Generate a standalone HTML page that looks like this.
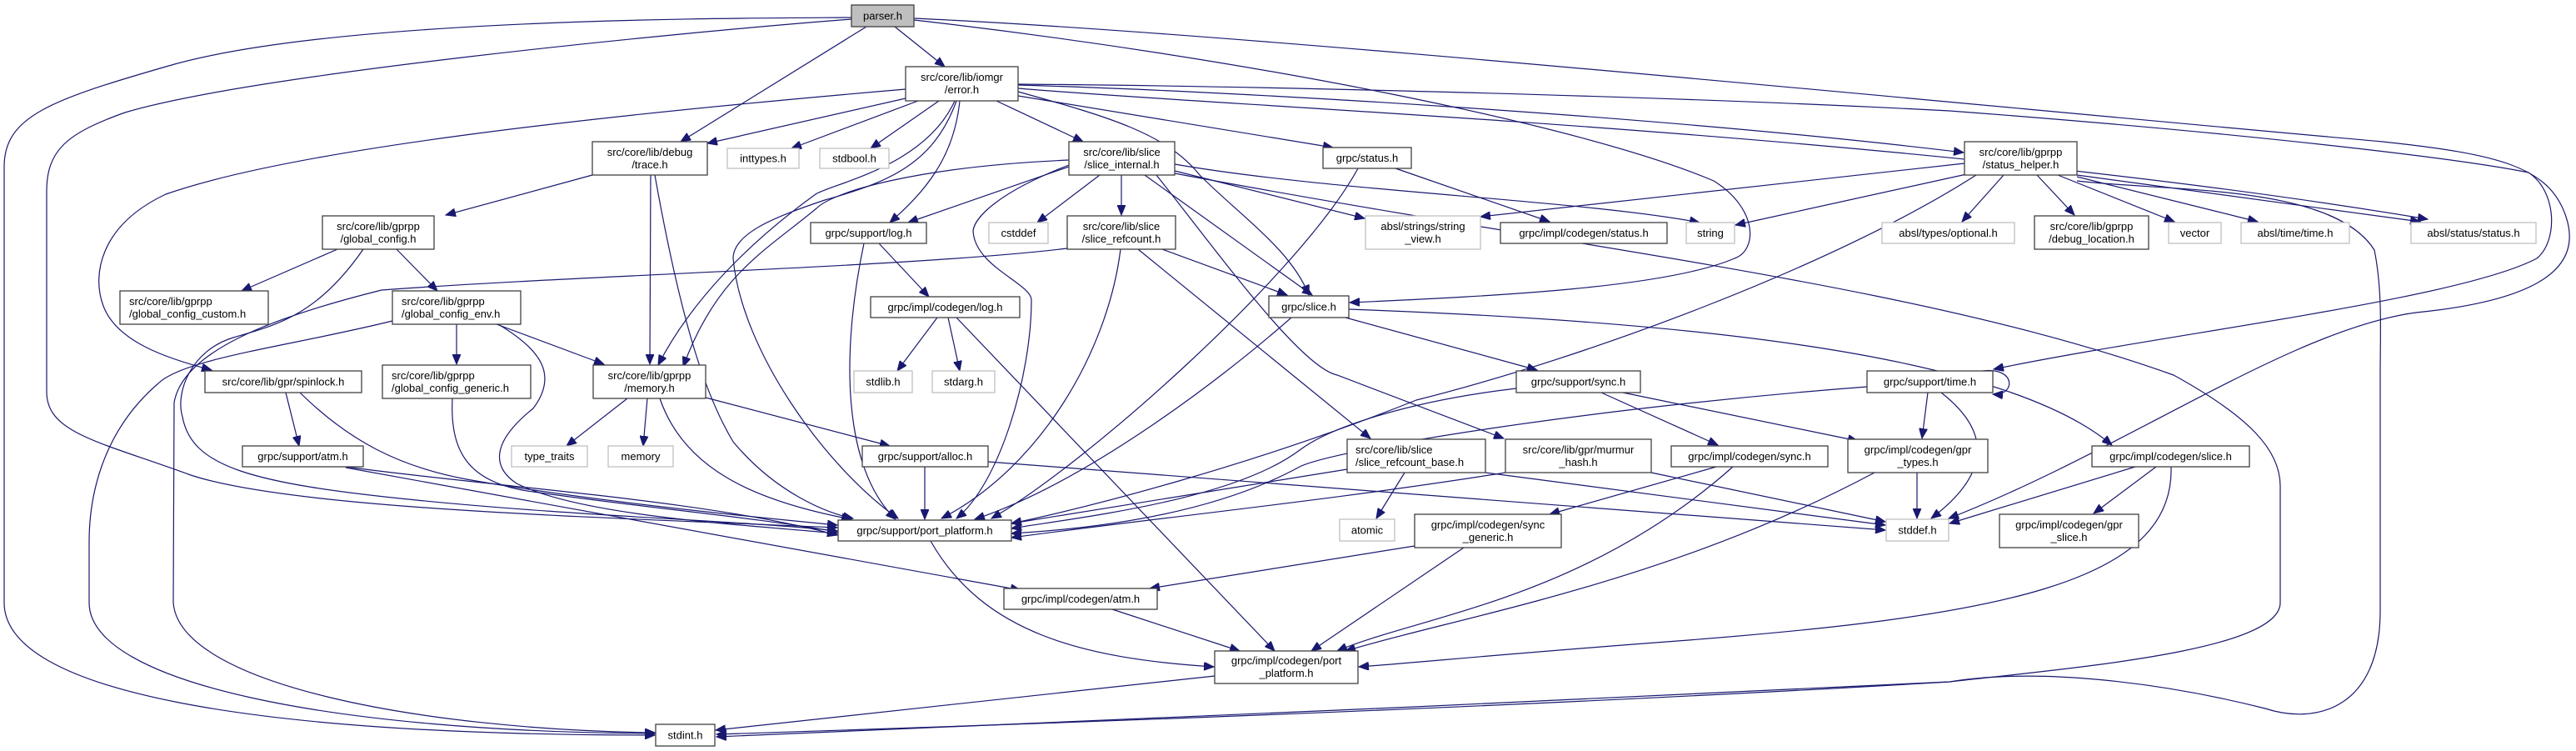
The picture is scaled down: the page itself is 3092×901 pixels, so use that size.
<!DOCTYPE html>
<html><head><meta charset="utf-8"><style>
html,body{margin:0;padding:0;background:#fff}
svg{display:block}
text{font-family:"Liberation Sans",sans-serif;font-size:13px;fill:#000}
.e{fill:none;stroke:#191970;stroke-width:1.2;marker-end:url(#a)}
.n{fill:#fff;stroke:#404040;stroke-width:1.3}
.g{fill:#fff;stroke:#bfbfbf;stroke-width:1.3}
</style></head><body>
<svg width="3092" height="901" viewBox="0 0 3092 901" xmlns="http://www.w3.org/2000/svg">
<defs><marker id="a" markerWidth="13" markerHeight="10" refX="12" refY="5" orient="auto" markerUnits="userSpaceOnUse"><path d="M0,0L12,5L0,10z" fill="#191970" stroke="#191970"/></marker></defs>

<g>
<path class="e" d="M1022,21 C900,22 400,20 199,80 C60,120 5,140 5,200 L5,723 C5,830 300,882 786,882"/>
<path class="e" d="M1022,23 C800,40 300,90 150,135 C80,160 56,180 56,230 L56,470 C56,520 120,530 229,570 C350,610 700,620 1005,633"/>
<path class="e" d="M1040,32 L817,170"/>
<path class="e" d="M1074,32 L1134,80"/>
<path class="e" d="M1097,22 C1500,40 2300,120 2860,170 C3000,185 3060,200 3080,260 C3100,320 3050,360 2900,375 C2750,395 2550,540 2339,622"/>
<path class="e" d="M1097,24 C1500,70 1900,150 2057,217 C2110,250 2110,300 2082,310 C2000,345 1800,355 1620,363"/>
<path class="e" d="M1087,118 L849,172"/>
<path class="e" d="M1102,121 L950,178"/>
<path class="e" d="M1127,121 L1045,178"/>
<path class="e" d="M1196,121 L1300,170"/>
<path class="e" d="M1152,121 C1145,190 1110,230 1068,267"/>
<path class="e" d="M1146,121 C1110,200 1000,220 979,233 C900,290 830,360 790,438"/>
<path class="e" d="M1148,121 C1120,200 1060,220 990,240 C930,260 880,280 880,310 C890,420 990,560 1078,622"/>
<path class="e" d="M1222,110 C1330,140 1400,160 1440,210 C1490,260 1550,300 1571,354"/>
<path class="e" d="M1222,115 L1600,177"/>
<path class="e" d="M1222,102 C1500,110 2000,140 2357,183"/>
<path class="e" d="M1222,101 C1500,103 2000,115 2340,133 C2700,160 2950,190 3035,207 C3070,230 3070,290 3045,310 C2950,360 2600,400 2393,443"/>
<path class="e" d="M1222,106 C1500,130 2300,160 2914,263"/>
<path class="e" d="M1087,107 C700,140 350,180 199,233 C120,270 110,330 124,367 C140,410 200,430 254,444"/>
<path class="e" d="M711,210 L535,258"/>
<path class="e" d="M781,210 L780,437"/>
<path class="e" d="M786,210 C820,400 850,480 880,530 C930,590 990,615 1024,622"/>
<path class="e" d="M405,299 L290,349"/>
<path class="e" d="M476,299 L525,349"/>
<path class="e" d="M436,299 C380,380 330,390 280,405 C230,420 210,470 219,500 C230,560 300,580 500,600 C700,620 900,625 1005,637"/>
<path class="e" d="M471,385 C350,415 220,430 190,460 C120,520 107,600 107,650 L107,723 C107,820 400,878 786,880"/>
<path class="e" d="M548,389 L548,437"/>
<path class="e" d="M596,389 L725,437"/>
<path class="e" d="M598,389 C650,420 670,450 640,490 C590,530 590,560 620,580 C700,620 900,630 1005,640"/>
<path class="e" d="M1281,298 C1100,320 700,330 458,348 C330,380 220,420 209,483 L208,723 C215,820 500,875 786,879"/>
<path class="e" d="M343,471 L359,535"/>
<path class="e" d="M360,471 C420,530 480,560 560,575 C700,600 900,620 1005,630"/>
<path class="e" d="M415,560 C600,585 850,600 1005,642"/>
<path class="e" d="M415,561 L1225,708"/>
<path class="e" d="M543,478 C540,540 560,580 640,590 C780,610 900,620 1005,638"/>
<path class="e" d="M753,478 L680,535"/>
<path class="e" d="M777,478 L772,535"/>
<path class="e" d="M792,478 C820,560 900,600 1022,623"/>
<path class="e" d="M847,477 L1068,535"/>
<path class="e" d="M1110,560 L1110,623"/>
<path class="e" d="M1186,554 L2263,636"/>
<path class="e" d="M1055,292 L1115,356"/>
<path class="e" d="M1037,292 C1010,420 1010,560 1075,623"/>
<path class="e" d="M1125,381 L1077,445"/>
<path class="e" d="M1138,381 L1152,445"/>
<path class="e" d="M1148,381 L1530,781"/>
<path class="e" d="M1283,200 L1090,267"/>
<path class="e" d="M1320,210 L1245,267"/>
<path class="e" d="M1346,210 L1346,258"/>
<path class="e" d="M1410,205 L1638,262"/>
<path class="e" d="M1410,197 C1600,230 1900,240 2040,267"/>
<path class="e" d="M1374,210 L1575,354"/>
<path class="e" d="M1388,210 C1460,300 1560,440 1605,450 L1805,526"/>
<path class="e" d="M1283,198 C1200,230 1170,260 1168,277 C1170,320 1238,340 1238,360 C1238,450 1200,580 1148,622"/>
<path class="e" d="M1410,208 C1900,300 2300,340 2609,450 C2700,500 2737,540 2737,583 L2737,723 C2737,780 2500,800 2340,818 C1800,850 1200,870 860,881"/>
<path class="e" d="M1283,192 C1100,200 1000,230 980,250 C920,300 860,330 820,440"/>
<path class="e" d="M1395,299 L1545,354"/>
<path class="e" d="M1366,299 L1645,526"/>
<path class="e" d="M1345,299 C1330,420 1250,560 1130,622"/>
<path class="e" d="M1550,381 C1460,460 1300,580 1170,623"/>
<path class="e" d="M1615,381 L1845,444"/>
<path class="e" d="M1619,371 C2000,385 2400,420 2535,534"/>
<path class="e" d="M1675,202 L1860,266"/>
<path class="e" d="M1630,202 C1560,330 1300,560 1190,622"/>
<path class="e" d="M2358,196 L1777,260"/>
<path class="e" d="M2365,208 L2083,270"/>
<path class="e" d="M2372,210 C2200,320 1900,430 1700,480 C1500,560 1300,610 1214,628"/>
<path class="e" d="M2405,210 L2355,266"/>
<path class="e" d="M2445,210 L2490,258"/>
<path class="e" d="M2470,210 L2610,266"/>
<path class="e" d="M2493,212 L2710,266"/>
<path class="e" d="M2493,210 L2905,266"/>
<path class="e" d="M2493,217 C2600,230 2800,220 2850,300 C2860,350 2857,400 2857,450 L2857,733 C2857,850 2780,870 2719,850 C2600,820 2450,800 2340,818 C1900,840 1200,870 860,884"/>
<path class="e" d="M1820,466 C1700,480 1600,510 1560,540 C1480,600 1300,620 1214,634"/>
<path class="e" d="M1922,471 L2062,534"/>
<path class="e" d="M1948,471 L2230,529"/>
<path class="e" d="M2380,445 C2420,440 2420,475 2392,473"/>
<path class="e" d="M2314,471 L2307,526"/>
<path class="e" d="M2330,471 C2380,510 2400,560 2318,622"/>
<path class="e" d="M2241,464 C1900,490 1600,540 1560,560 C1450,620 1300,635 1214,640"/>
<path class="e" d="M2060,560 L1860,617"/>
<path class="e" d="M2080,560 C1900,720 1700,740 1605,781"/>
<path class="e" d="M2301,567 L2301,622"/>
<path class="e" d="M2250,567 C2000,700 1750,740 1615,781"/>
<path class="e" d="M1686,567 L1652,622"/>
<path class="e" d="M1617,563 L1214,628"/>
<path class="e" d="M1783,567 L2263,630"/>
<path class="e" d="M1807,567 C1600,600 1400,620 1214,645"/>
<path class="e" d="M1982,567 L2263,626"/>
<path class="e" d="M1698,655 L1380,706"/>
<path class="e" d="M1757,657 L1574,781"/>
<path class="e" d="M2588,560 L2513,616"/>
<path class="e" d="M2563,560 L2340,628"/>
<path class="e" d="M2606,560 C2610,700 2400,740 2000,770 C1800,785 1700,795 1631,800"/>
<path class="e" d="M1117,649 C1180,760 1300,790 1457,800"/>
<path class="e" d="M1335,731 L1488,781"/>
<path class="e" d="M1458,811 L859,876"/>
</g>

<g>
<rect x="1022" y="6" width="75" height="26" fill="#bfbfbf" stroke="#404040" stroke-width="1.3"/><text x="1059.5" y="23.5" text-anchor="middle">parser.h</text>
<rect class="n" x="1087" y="80" width="135" height="41"/><text x="1154.5" y="97" text-anchor="middle">src/core/lib/iomgr</text><text x="1154.5" y="112" text-anchor="middle">/error.h</text>
<rect class="n" x="711" y="170" width="138" height="40"/><text x="780" y="187" text-anchor="middle">src/core/lib/debug</text><text x="780" y="202" text-anchor="middle">/trace.h</text>
<rect class="g" x="873" y="178" width="86" height="24"/><text x="916" y="194.5" text-anchor="middle">inttypes.h</text>
<rect class="g" x="984" y="178" width="83" height="24"/><text x="1025.5" y="194.5" text-anchor="middle">stdbool.h</text>
<rect class="n" x="1283" y="170" width="127" height="40"/><text x="1346.5" y="187" text-anchor="middle">src/core/lib/slice</text><text x="1346.5" y="202" text-anchor="middle">/slice_internal.h</text>
<rect class="n" x="1588" y="177" width="106" height="25"/><text x="1641" y="194" text-anchor="middle">grpc/status.h</text>
<rect class="n" x="2358" y="170" width="135" height="40"/><text x="2425.5" y="187" text-anchor="middle">src/core/lib/gprpp</text><text x="2425.5" y="202" text-anchor="middle">/status_helper.h</text>
<rect class="n" x="387" y="259" width="134" height="40"/><text x="454" y="276" text-anchor="middle">src/core/lib/gprpp</text><text x="454" y="291" text-anchor="middle">/global_config.h</text>
<rect class="n" x="973" y="267" width="139" height="25"/><text x="1042.5" y="284" text-anchor="middle">grpc/support/log.h</text>
<rect class="g" x="1187" y="267" width="71" height="25"/><text x="1222.5" y="284" text-anchor="middle">cstddef</text>
<rect class="n" x="1281" y="259" width="130" height="40"/><text x="1346" y="276" text-anchor="middle">src/core/lib/slice</text><text x="1346" y="291" text-anchor="middle">/slice_refcount.h</text>
<rect class="g" x="1639" y="259" width="138" height="40"/><text x="1708" y="276" text-anchor="middle">absl/strings/string</text><text x="1708" y="291" text-anchor="middle">_view.h</text>
<rect class="n" x="1801" y="267" width="200" height="25"/><text x="1901" y="284" text-anchor="middle">grpc/impl/codegen/status.h</text>
<rect class="g" x="2024" y="267" width="58" height="25"/><text x="2053" y="284" text-anchor="middle">string</text>
<rect class="g" x="2259" y="267" width="159" height="25"/><text x="2338.5" y="284" text-anchor="middle">absl/types/optional.h</text>
<rect class="n" x="2442" y="259" width="137" height="40"/><text x="2510.5" y="276" text-anchor="middle">src/core/lib/gprpp</text><text x="2510.5" y="291" text-anchor="middle">/debug_location.h</text>
<rect class="g" x="2603" y="267" width="63" height="25"/><text x="2634.5" y="284" text-anchor="middle">vector</text>
<rect class="g" x="2690" y="267" width="130" height="25"/><text x="2755" y="284" text-anchor="middle">absl/time/time.h</text>
<rect class="g" x="2894" y="267" width="150" height="25"/><text x="2969" y="284" text-anchor="middle">absl/status/status.h</text>
<rect class="n" x="144" y="349" width="178" height="40"/><text x="155" y="366">src/core/lib/gprpp</text><text x="155" y="381">/global_config_custom.h</text>
<rect class="n" x="471" y="349" width="154" height="40"/><text x="482" y="366">src/core/lib/gprpp</text><text x="482" y="381">/global_config_env.h</text>
<rect class="n" x="1045" y="356" width="179" height="25"/><text x="1134.5" y="373" text-anchor="middle">grpc/impl/codegen/log.h</text>
<rect class="n" x="1523" y="355" width="96" height="26"/><text x="1571" y="372.5" text-anchor="middle">grpc/slice.h</text>
<rect class="n" x="246" y="445" width="188" height="26"/><text x="340" y="462.5" text-anchor="middle">src/core/lib/gpr/spinlock.h</text>
<rect class="n" x="459" y="438" width="178" height="40"/><text x="470" y="455">src/core/lib/gprpp</text><text x="470" y="470">/global_config_generic.h</text>
<rect class="n" x="712" y="438" width="135" height="40"/><text x="779.5" y="455" text-anchor="middle">src/core/lib/gprpp</text><text x="779.5" y="470" text-anchor="middle">/memory.h</text>
<rect class="g" x="1025" y="445" width="70" height="26"/><text x="1060" y="462.5" text-anchor="middle">stdlib.h</text>
<rect class="g" x="1119" y="445" width="75" height="26"/><text x="1156.5" y="462.5" text-anchor="middle">stdarg.h</text>
<rect class="n" x="1820" y="445" width="149" height="26"/><text x="1894.5" y="462.5" text-anchor="middle">grpc/support/sync.h</text>
<rect class="n" x="2241" y="445" width="151" height="26"/><text x="2316.5" y="462.5" text-anchor="middle">grpc/support/time.h</text>
<rect class="n" x="291" y="535" width="145" height="25"/><text x="363.5" y="552" text-anchor="middle">grpc/support/atm.h</text>
<rect class="g" x="614" y="535" width="91" height="25"/><text x="659.5" y="552" text-anchor="middle">type_traits</text>
<rect class="g" x="730" y="535" width="78" height="25"/><text x="769" y="552" text-anchor="middle">memory</text>
<rect class="n" x="1035" y="535" width="151" height="25"/><text x="1110.5" y="552" text-anchor="middle">grpc/support/alloc.h</text>
<rect class="n" x="1617" y="527" width="166" height="40"/><text x="1627" y="544">src/core/lib/slice</text><text x="1627" y="559">/slice_refcount_base.h</text>
<rect class="n" x="1807" y="527" width="175" height="40"/><text x="1894.5" y="544" text-anchor="middle">src/core/lib/gpr/murmur</text><text x="1894.5" y="559" text-anchor="middle">_hash.h</text>
<rect class="n" x="2006" y="535" width="188" height="25"/><text x="2100" y="552" text-anchor="middle">grpc/impl/codegen/sync.h</text>
<rect class="n" x="2218" y="527" width="168" height="40"/><text x="2302" y="544" text-anchor="middle">grpc/impl/codegen/gpr</text><text x="2302" y="559" text-anchor="middle">_types.h</text>
<rect class="n" x="2511" y="535" width="189" height="25"/><text x="2605.5" y="552" text-anchor="middle">grpc/impl/codegen/slice.h</text>
<rect class="n" x="1006" y="624" width="208" height="25"/><text x="1110" y="641" text-anchor="middle">grpc/support/port_platform.h</text>
<rect class="g" x="1608" y="623" width="66" height="26"/><text x="1641" y="640.5" text-anchor="middle">atomic</text>
<rect class="n" x="1698" y="617" width="176" height="40"/><text x="1786" y="634" text-anchor="middle">grpc/impl/codegen/sync</text><text x="1786" y="649" text-anchor="middle">_generic.h</text>
<rect class="g" x="2264" y="623" width="75" height="26"/><text x="2301.5" y="640.5" text-anchor="middle">stddef.h</text>
<rect class="n" x="2400" y="617" width="167" height="40"/><text x="2483.5" y="634" text-anchor="middle">grpc/impl/codegen/gpr</text><text x="2483.5" y="649" text-anchor="middle">_slice.h</text>
<rect class="n" x="1205" y="706" width="184" height="25"/><text x="1297" y="723" text-anchor="middle">grpc/impl/codegen/atm.h</text>
<rect class="n" x="1458" y="781" width="172" height="39"/><text x="1544" y="797" text-anchor="middle">grpc/impl/codegen/port</text><text x="1544" y="812" text-anchor="middle">_platform.h</text>
<rect class="n" x="787" y="869" width="71" height="26"/><text x="822.5" y="886.5" text-anchor="middle">stdint.h</text>
</g>
</svg>
</body></html>
